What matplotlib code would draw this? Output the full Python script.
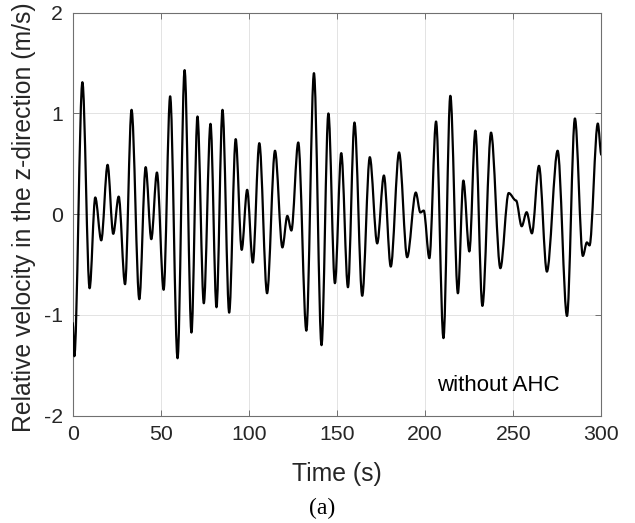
import numpy as np
import matplotlib
matplotlib.use("Agg")
import matplotlib.pyplot as plt
from matplotlib.path import Path
from matplotlib.patches import PathPatch

# peaks / troughs (time s, velocity m/s)
t_ext = [0, 0.9, 5.5, 9.6, 12.8, 16.2, 19.8, 23.0, 26.1, 29.7, 33.4, 37.8, 41.4,
         44.6, 47.8, 51.6, 55.3, 59.5, 63.5, 67.4, 70.8, 74.4, 78.2, 81.6, 85.0,
         88.8, 92.5, 95.9, 99.0, 102.2, 105.9, 110.3, 114.8, 119.0, 121.8, 124.1,
         128.0, 132.6, 136.9, 141.2, 145.1, 148.8, 152.4, 156.2, 159.9, 164.3,
         168.6, 172.8, 176.6, 180.5, 185.2, 189.8, 194.7, 197.3, 199.2, 202.4,
         206.2, 210.4, 214.3, 218.6, 221.7, 225.1, 228.5, 232.5, 237.4, 242.7,
         247.4, 251.6, 254.8, 257.6, 260.6, 264.6, 269.1, 275.2, 280.5, 285.0,
         289.5, 291.8, 293.3, 298.0, 300]
v_ext = [-1.08, -1.41, 1.31, -0.735, 0.166, -0.26, 0.49, -0.195, 0.175, -0.695,
         1.036, -0.844, 0.467, -0.248, 0.414, -0.75, 1.17, -1.43, 1.43, -1.175,
         0.97, -0.884, 0.897, -0.924, 1.036, -0.977, 0.745, -0.354, 0.242, -0.48,
         0.705, -0.785, 0.63, -0.33, -0.017, -0.162, 0.712, -1.156, 1.40, -1.30,
         1.00, -0.685, 0.606, -0.725, 0.91, -0.81, 0.566, -0.29, 0.384, -0.52,
         0.613, -0.427, 0.215, 0.017, 0.036, -0.437, 0.92, -1.23, 1.175, -0.785,
         0.334, -0.37, 0.83, -0.91, 0.81, -0.536, 0.21, 0.136, -0.12, 0.02, -0.19,
         0.48, -0.57, 0.63, -1.01, 0.95, -0.414, -0.28, -0.31, 0.90, 0.59]

xticks = [0, 50, 100, 150, 200, 250, 300]
yticks = [-2, -1, 0, 1, 2]

plt.rcParams['font.family'] = ['Liberation Sans', 'DejaVu Sans']
plt.rcParams['axes.unicode_minus'] = False

fig = plt.figure(figsize=(6.35, 5.23), dpi=100)
ax = fig.add_axes([0.1145, 0.2052, 0.8325, 0.7705])

# smooth curve through the extrema: cubic segments, flat at each extremum
verts = [(t_ext[0], v_ext[0])]
codes = [Path.MOVETO]
for i in range(len(t_ext) - 1):
    t0, t1 = t_ext[i], t_ext[i + 1]
    v0, v1 = v_ext[i], v_ext[i + 1]
    dt = t1 - t0
    verts += [(t0 + dt / 3, v0), (t1 - dt / 3, v1), (t1, v1)]
    codes += [Path.CURVE4] * 3
ax.add_patch(PathPatch(Path(verts, codes), fill=False, edgecolor='black',
                       lw=1.6, capstyle='round', joinstyle='round', zorder=3))

ax.set_xlim(0, 300)
ax.set_ylim(-2, 2)
ax.set_xticks(xticks)
ax.set_yticks(yticks)
ax.grid(True, color='#e3e3e3', lw=0.7)
ax.set_axisbelow(True)

for s in ax.spines.values():
    s.set_color('#707070')
    s.set_linewidth(0.8)
ax.tick_params(direction='in', length=4, width=0.7, color='#707070',
               top=True, right=True, labelsize=15.3, labelcolor='#262626', pad=7)

ax.set_xlabel('Time (s)', fontsize=17.8, color='#262626')
ax.set_ylabel('Relative velocity in the z-direction (m/s)', fontsize=17.8,
              color='#262626')
ax.xaxis.set_label_coords(0.5, -0.115)
ax.yaxis.set_label_coords(-0.07, 0.493)

ax.text(207, -1.755, 'without AHC', fontsize=16, color='black', va='baseline')

fig.text(0.507, 0.027, '(a)', fontsize=17, family='Liberation Serif',
         ha='center', va='center')

fig.savefig('out.png', dpi=100)
